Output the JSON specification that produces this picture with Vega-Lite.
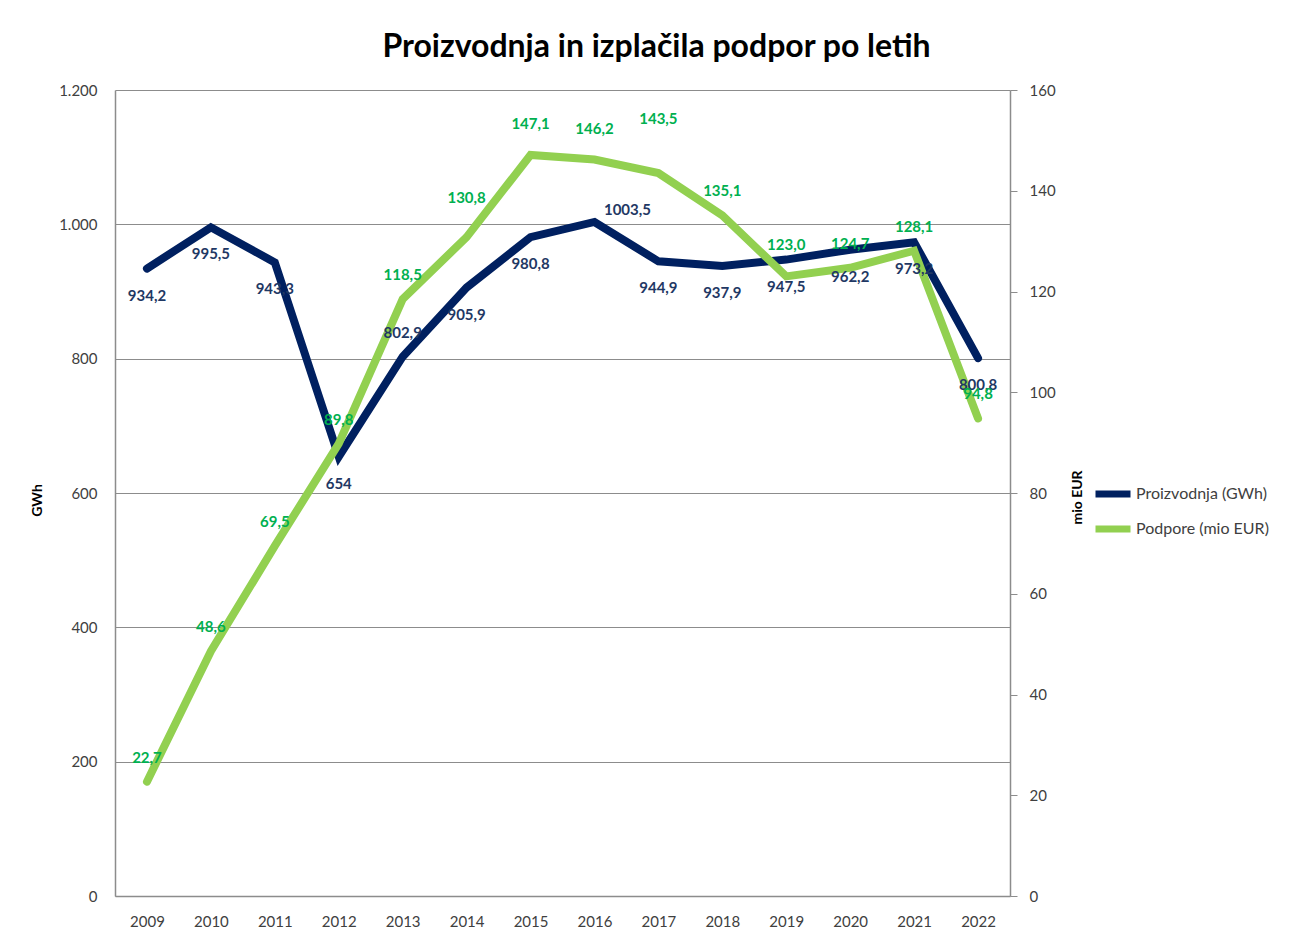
{
  "$schema": "https://vega.github.io/schema/vega-lite/v6.json",
  "width": 895,
  "height": 806,
  "autosize": {"type": "none"},
  "padding": {"left": 115, "top": 90, "right": 285, "bottom": 47},
  "background": "white",
  "title": {"text": "Proizvodnja in izplačila podpor po letih", "fontSize": 32, "font": "Lato", "fontWeight": "bold", "color": "#000000", "anchor": "middle", "dx": 94, "offset": 19},
  "config": {
    "locale": {"number": {"decimal": ",", "thousands": ".", "grouping": [3], "currency": ["", " €"]}},
    "view": {"stroke": null},
    "font": "Lato"
  },
  "data": {"values": [
    {"year": "2009", "proizvodnja": 934.2, "podpore": 22.7},
    {"year": "2010", "proizvodnja": 995.5, "podpore": 48.6},
    {"year": "2011", "proizvodnja": 943.3, "podpore": 69.5},
    {"year": "2012", "proizvodnja": 654, "podpore": 89.8},
    {"year": "2013", "proizvodnja": 802.9, "podpore": 118.5},
    {"year": "2014", "proizvodnja": 905.9, "podpore": 130.8},
    {"year": "2015", "proizvodnja": 980.8, "podpore": 147.1},
    {"year": "2016", "proizvodnja": 1003.5, "podpore": 146.2},
    {"year": "2017", "proizvodnja": 944.9, "podpore": 143.5},
    {"year": "2018", "proizvodnja": 937.9, "podpore": 135.1},
    {"year": "2019", "proizvodnja": 947.5, "podpore": 123.0},
    {"year": "2020", "proizvodnja": 962.2, "podpore": 124.7},
    {"year": "2021", "proizvodnja": 973.2, "podpore": 128.1},
    {"year": "2022", "proizvodnja": 800.8, "podpore": 94.8}
  ]},
  "encoding": {
    "x": {"field": "year", "type": "ordinal", "scale": {"padding": 0.5},
      "axis": {"title": null, "labelAngle": 0, "labelFontSize": 15, "labelColor": "#404040", "ticks": false, "domainColor": "#8c8c8c", "domainWidth": 1.5, "labelPadding": 18, "labelFont": "Lato"}}
  },
  "layer": [
    {
      "mark": {"type": "line", "strokeWidth": 8, "strokeJoin": "miter", "strokeCap": "round"},
      "encoding": {
        "y": {"field": "proizvodnja", "type": "quantitative", "scale": {"domain": [0, 1200], "nice": false, "zero": true},
          "axis": {"orient": "left", "title": "GWh", "titleFontSize": 14, "titleFontWeight": "bold", "titleColor": "#000", "titleX": -78, "titleY": 410, "titleAngle": -90, "titleAlign": "center", "titleBaseline": "middle",
            "values": [0, 200, 400, 600, 800, 1000, 1200], "format": ",.0f", "labelFontSize": 15, "labelColor": "#404040", "ticks": false, "labelPadding": 18,
            "grid": true, "gridColor": "#8c8c8c", "gridWidth": 1.2, "domain": true, "domainColor": "#8c8c8c", "domainWidth": 1.5}},
        "color": {"datum": "Proizvodnja (GWh)", "type": "nominal",
          "scale": {"domain": ["Proizvodnja (GWh)", "Podpore (mio EUR)"], "range": ["#002060", "#92D050"]},
          "legend": {"title": null, "orient": "none", "legendX": 977, "legendY": 383, "symbolType": "stroke", "symbolStrokeWidth": 7, "symbolSize": 1225, "labelFontSize": 16, "labelColor": "#404040", "rowPadding": 0, "labelOffset": 2, "labelFont": "Lato"}}
      }
    },
    {
      "mark": {"type": "line", "strokeWidth": 8, "strokeJoin": "miter", "strokeCap": "round"},
      "encoding": {
        "y": {"field": "podpore", "type": "quantitative", "scale": {"domain": [0, 160], "nice": false, "zero": true},
          "axis": {"orient": "right", "title": "mio EUR", "titleFontSize": 14, "titleFontWeight": "bold", "titleColor": "#000", "titleX": 67, "titleY": 407, "titleAngle": -90, "titleAlign": "center", "titleBaseline": "middle",
            "values": [0, 20, 40, 60, 80, 100, 120, 140, 160], "labelFontSize": 15, "labelColor": "#404040", "ticks": true, "tickSize": 7, "tickColor": "#8c8c8c", "labelPadding": 12,
            "grid": false, "domain": true, "domainColor": "#8c8c8c", "domainWidth": 1.5}},
        "color": {"datum": "Podpore (mio EUR)", "type": "nominal"}
      }
    },
    {
      "transform": [{"filter": "datum.year != '2013' && datum.year != '2016'"}],
      "mark": {"type": "text", "dy": 27, "fontSize": 15, "fontWeight": "bold", "color": "#1F3864"},
      "encoding": {
        "y": {"field": "proizvodnja", "type": "quantitative", "scale": {"domain": [0, 1200], "nice": false}, "axis": null},
        "text": {"field": "proizvodnja", "type": "quantitative", "format": "~f"}
      }
    },
    {
      "transform": [{"filter": "datum.year == '2013'"}],
      "mark": {"type": "text", "dy": -24, "fontSize": 15, "fontWeight": "bold", "color": "#1F3864"},
      "encoding": {
        "y": {"field": "proizvodnja", "type": "quantitative", "scale": {"domain": [0, 1200], "nice": false}, "axis": null},
        "text": {"field": "proizvodnja", "type": "quantitative", "format": "~f"}
      }
    },
    {
      "transform": [{"filter": "datum.year == '2016'"}],
      "mark": {"type": "text", "dy": -12, "dx": 33, "fontSize": 15, "fontWeight": "bold", "color": "#1F3864"},
      "encoding": {
        "y": {"field": "proizvodnja", "type": "quantitative", "scale": {"domain": [0, 1200], "nice": false}, "axis": null},
        "text": {"field": "proizvodnja", "type": "quantitative", "format": "~f"}
      }
    },
    {
      "transform": [{"filter": "indexof(['2014','2015','2016','2017','2019'], datum.year) < 0"}],
      "mark": {"type": "text", "dy": -24, "fontSize": 15, "fontWeight": "bold", "color": "#00B050"},
      "encoding": {
        "y": {"field": "podpore", "type": "quantitative", "scale": {"domain": [0, 160], "nice": false}, "axis": null},
        "text": {"field": "podpore", "type": "quantitative", "format": ".1f"}
      }
    },
    {
      "transform": [{"filter": "indexof(['2015','2016','2019'], datum.year) >= 0"}],
      "mark": {"type": "text", "dy": -31, "fontSize": 15, "fontWeight": "bold", "color": "#00B050"},
      "encoding": {
        "y": {"field": "podpore", "type": "quantitative", "scale": {"domain": [0, 160], "nice": false}, "axis": null},
        "text": {"field": "podpore", "type": "quantitative", "format": ".1f"}
      }
    },
    {
      "transform": [{"filter": "datum.year == '2014'"}],
      "mark": {"type": "text", "dy": -39, "fontSize": 15, "fontWeight": "bold", "color": "#00B050"},
      "encoding": {
        "y": {"field": "podpore", "type": "quantitative", "scale": {"domain": [0, 160], "nice": false}, "axis": null},
        "text": {"field": "podpore", "type": "quantitative", "format": ".1f"}
      }
    },
    {
      "transform": [{"filter": "datum.year == '2017'"}],
      "mark": {"type": "text", "dy": -54, "fontSize": 15, "fontWeight": "bold", "color": "#00B050"},
      "encoding": {
        "y": {"field": "podpore", "type": "quantitative", "scale": {"domain": [0, 160], "nice": false}, "axis": null},
        "text": {"field": "podpore", "type": "quantitative", "format": ".1f"}
      }
    }
  ],
  "resolve": {"scale": {"y": "independent"}}
}
